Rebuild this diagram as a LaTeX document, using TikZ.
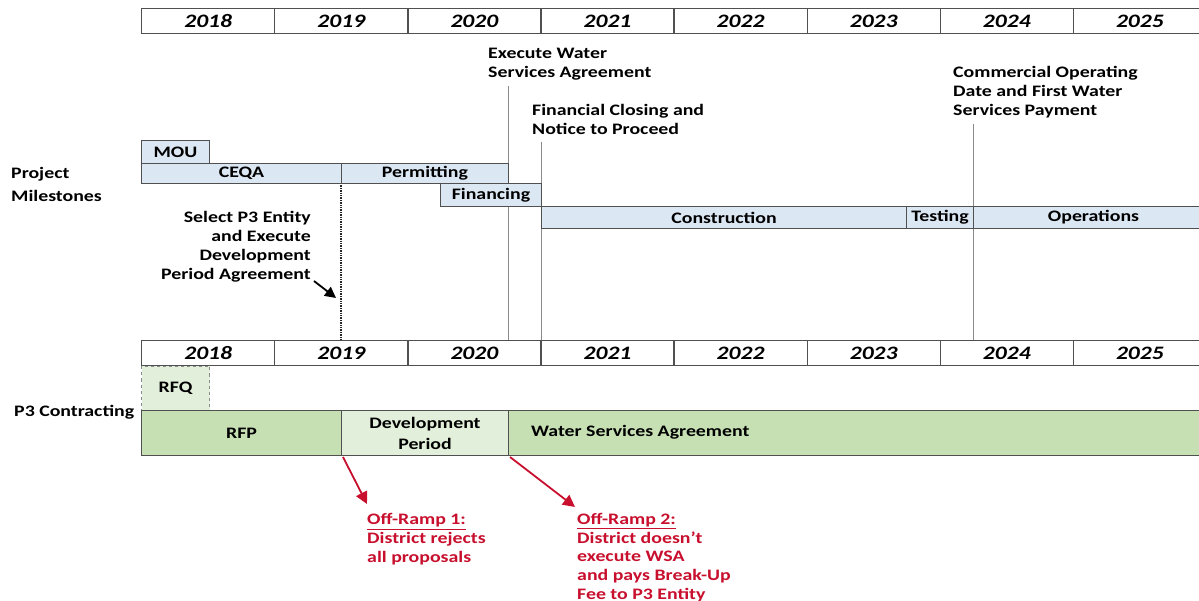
\documentclass[tikz,border=0pt]{standalone}
\usepackage{fontspec}
\setmainfont{Carlito}[FakeStretch=1.24]
\usetikzlibrary{arrows.meta}
\definecolor{bluefill}{HTML}{DCE7F4}
\definecolor{greenfill}{HTML}{C6E0B4}
\definecolor{lightgreen}{HTML}{E2EFDA}
\definecolor{barline}{HTML}{505050}
\definecolor{offred}{HTML}{C8102E}
\definecolor{vgray}{HTML}{8A8A8A}
\tikzset{
  yearcell/.style={draw=barline, line width=1.3pt, fill=white, minimum width=133.1pt, minimum height=25pt, inner sep=0pt, anchor=north west, font=\fontsize{19}{20}\selectfont\bfseries\itshape},
  bluebar/.style={draw=barline, line width=1pt, fill=bluefill, inner sep=0pt, anchor=north west, font=\fontsize{16}{19}\selectfont\bfseries},
  greenbar/.style={draw=barline, line width=1pt, fill=greenfill, inner sep=0pt, anchor=north west, font=\fontsize{16}{21}\selectfont\bfseries, align=center},
  lgreenbar/.style={greenbar, fill=lightgreen},
  lbl/.style={inner sep=0pt, font=\fontsize{16}{19}\selectfont\bfseries},
  redlbl/.style={lbl, font=\fontsize{16}{18.6}\selectfont\bfseries, text=offred, align=left, anchor=base west},
  vline/.style={draw=vgray, line width=0.9pt},
  redarrow/.style={draw=offred, line width=1.8pt, -{Triangle[length=12pt,width=12pt]}},
  blackarrow/.style={draw=black, line width=1.8pt, -{Triangle[length=11pt,width=11pt]}},
}
\begin{document}
\begin{tikzpicture}[x=1pt,y=-1pt]
\useasboundingbox[fill=white] (0,0) rectangle (1199,601);
\clip (0,0) rectangle (1199,601);
% year rows
\foreach \i/\yr in {0/2018,1/2019,2/2020,3/2021,4/2022,5/2023,6/2024,7/2025}{
  \node[yearcell] (ya\yr) at ({141+133.1*\i},8) {\yr};
  \node[yearcell] (yb\yr) at ({141+133.1*\i},340) {\yr};
}
% milestone labels (base = baseline of last line)
\node[lbl, align=left, anchor=base west] (ewsa) at (488,78) {Execute Water\\Services Agreement};
\node[lbl, align=left, anchor=base west] (fcnp) at (532,135) {Financial Closing and\\Notice to Proceed};
\node[lbl, align=left, anchor=base west] (cod) at (953,116) {Commercial Operating\\Date and First Water\\Services Payment};
\node[lbl, align=left, anchor=base west] (pm) at (11,202) {Project\\[4pt]Milestones};
\node[lbl, align=right, anchor=base east] (sel) at (311,280) {Select P3 Entity\\and Execute\\Development\\Period Agreement};
\node[lbl, anchor=base west] (p3c) at (14,416) {P3 Contracting};
% vertical milestone lines
\coordinate (v1) at (508,86);
\coordinate (v2) at (541,142);
\coordinate (v3) at (973,124);
\coordinate (v0) at (341,183);
\draw[vline] (v1) -- (v1 |- yb2020.north);
\draw[vline] (v2) -- (v2 |- yb2021.north);
\draw[vline] (v3) -- (v3 |- yb2024.north);
\draw[black!85, line width=2pt, dash pattern=on 1.4pt off 1pt] (v0) -- (v0 |- yb2019.north);
% project bars
\node[bluebar, minimum width=68pt, minimum height=23pt] (mou) at (141,140) {MOU};
\node[bluebar, minimum width=200pt, minimum height=20pt] (ceqa) at (141,163) {CEQA};
\node[bluebar, minimum width=167pt, minimum height=20pt] (perm) at (341,163) {Permitting};
\node[bluebar, minimum width=101pt, minimum height=23pt] (fin) at (440,183) {Financing};
\node[bluebar, minimum width=365pt, minimum height=22pt] (cons) at (541,206) {Construction};
\node[bluebar, minimum width=67pt, minimum height=22pt] (test) at (906,206) {Testing};
\node[bluebar, minimum width=240pt, minimum height=22pt] (ops) at (973,206) {Operations};
% arrow select
\coordinate (sa) at (314,281);
\coordinate (sb) at (336,298);
\draw[blackarrow] (sa) -- (sb);
% contracting bars
\node[lgreenbar, dashed, draw=vgray, minimum width=68pt, minimum height=44pt] (rfq) at (141,366) {RFQ};
\node[greenbar, minimum width=200pt, minimum height=45pt] (rfp) at (141,410) {RFP};
\node[lgreenbar, minimum width=167pt, minimum height=45pt] (dev) at (341,410) {Development\\Period};
\node[greenbar, minimum width=700pt, minimum height=45pt] (wsa) at (508,410) {};
\node[lbl, anchor=west] (wsalbl) at (531,432.5) {Water Services Agreement};
% off-ramps
\node[redlbl] (off1) at (367,562) {\underline{Off-Ramp 1:}\\District rejects\\all proposals};
\node[redlbl] (off2) at (577,599) {\underline{Off-Ramp 2:}\\District doesn't\\execute WSA\\and pays Break-Up\\Fee to P3 Entity};
\coordinate (r1s) at (343,457);
\coordinate (r1e) at (367,504);
\coordinate (r2s) at (510,457);
\coordinate (r2e) at (575,507);
\draw[redarrow] (r1s) -- (r1e);
\draw[redarrow] (r2s) -- (r2e);
\end{tikzpicture}
\end{document}
